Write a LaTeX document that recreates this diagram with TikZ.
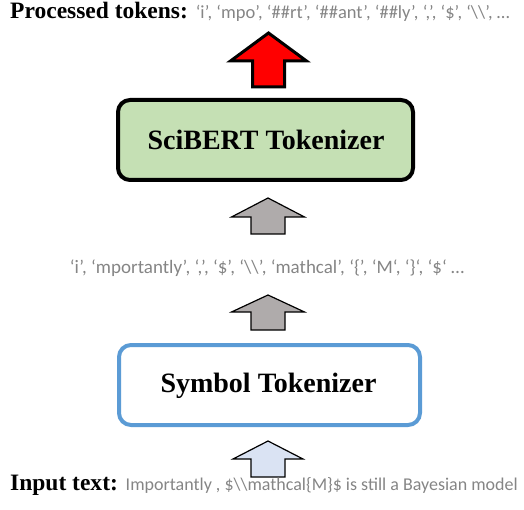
\documentclass[tikz,border=0pt]{standalone}
\usepackage{fontspec}
\setmainfont{Liberation Serif}
\newfontfamily\calib{Carlito}
\definecolor{tokgray}{HTML}{858585}
\definecolor{arrgray}{HTML}{AFABAB}
\definecolor{arrblue}{HTML}{DAE3F3}
\definecolor{boxgreen}{HTML}{C5E0B4}
\definecolor{boxblue}{HTML}{5B9BD5}
\tikzset{
  tok/.style={font=\calib\fontsize{19}{21}\selectfont, text=tokgray, inner sep=0pt},
  procbox/.style={rounded corners=12pt, line width=4pt},
  boxtext/.style={font=\fontsize{28}{31}\selectfont\bfseries, inner sep=0pt},
  blockarrow/.style={line width=1.2pt, line join=miter},
}
\newcommand{\blockarr}[7]{% style, tipx, tipy, headbase, headhalf, shafthalf, bottom
  \draw[#1] (#2,#3) -- (#2+#5,#4) -- (#2+#6,#4) -- (#2+#6,#7) -- (#2-#6,#7) -- (#2-#6,#4) -- (#2-#5,#4) -- cycle;}
\begin{document}
\begin{tikzpicture}[x=1pt,y=-1pt]
\useasboundingbox (0,0) rectangle (524,510);
% top text
\node[anchor=base west, inner sep=0pt] (top) at (10,19) {\fontsize{23.5}{26}\selectfont\bfseries Processed tokens: {\calib\mdseries\fontsize{18.5}{21}\selectfont\color{tokgray}‘i’, ‘mpo’, ‘\#\#rt’, ‘\#\#ant’, ‘\#\#ly’, ‘,’, ‘\$’, ‘\textbackslash\textbackslash’, …}};
% red arrow
\blockarr{blockarrow, line width=3pt, fill=red, draw=black}{268.5}{33}{61}{38}{16}{87}
% SciBERT box
\draw[procbox, fill=boxgreen, draw=black] (118,100) rectangle (413,180);
\node[boxtext] (sci) at (266,140) {SciBERT Tokenizer};
% gray arrow 1
\blockarr{blockarrow, fill=arrgray, draw=black}{268}{198}{217}{36.5}{17}{234}
% middle tokens
\node[tok, anchor=base] (mid) at (267,273) {‘i’, ‘mportantly’, ‘,’, ‘\$’, ‘\textbackslash\textbackslash’, ‘mathcal’, ‘\{’, ‘M‘, ‘\}‘, ‘\$‘ …};
% gray arrow 2
\blockarr{blockarrow, fill=arrgray, draw=black}{268}{295}{312}{36.5}{17}{330}
% Symbol box
\draw[procbox, fill=white, draw=boxblue] (119,345) rectangle (420,425);
\node[boxtext] (sym) at (268.5,386) {Symbol Tokenizer};
% blue arrow
\blockarr{blockarrow, fill=arrblue, draw=black}{268}{441}{459}{35}{17}{477}
% bottom text
\node[anchor=base west, inner sep=0pt] (inp) at (10,490) {\fontsize{23.5}{26}\selectfont\bfseries Input text: {\calib\mdseries\fontsize{18}{20}\selectfont\color{tokgray}Importantly , \$\textbackslash\textbackslash mathcal\{M\}\$ is still a Bayesian model}};
\end{tikzpicture}
\end{document}
